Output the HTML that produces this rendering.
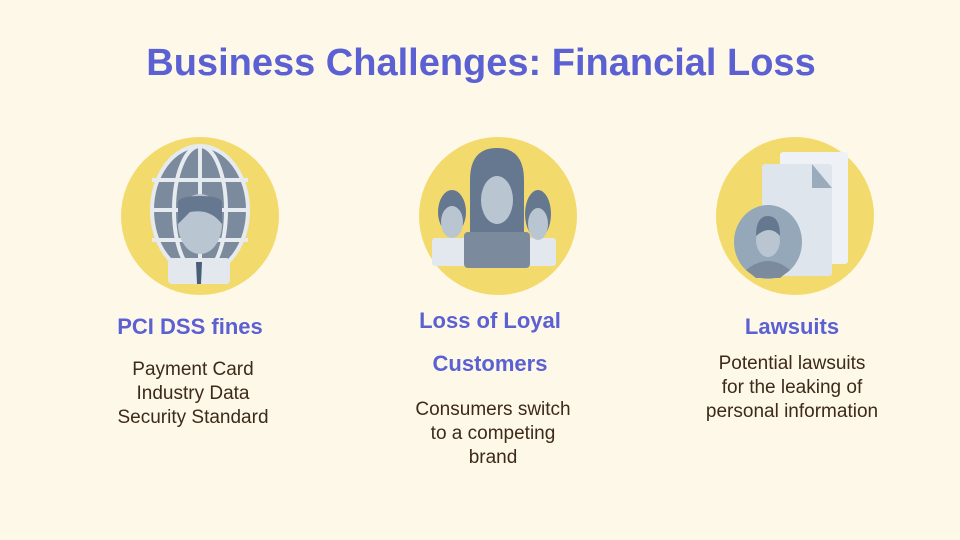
<!DOCTYPE html>
<html><head><meta charset="utf-8"><style>
body{margin:0;width:960px;height:540px;background:#fef8e8;position:relative;overflow:hidden;font-family:"Liberation Sans",sans-serif}
.t{position:absolute;left:0;width:962px;top:42px;text-align:center;font-size:38px;font-weight:bold;color:#5b60d2}
.h{position:absolute;text-align:center;color:#5b60d2;font-weight:bold;font-size:22px}
.d{position:absolute;text-align:center;color:#3d2a1a;font-size:19px;line-height:24px}
svg{position:absolute;left:0;top:0}
</style></head><body>
<div class="t">Business Challenges: Financial Loss</div>
<svg width="960" height="540">
<g>
<circle cx="200" cy="216" r="79" fill="#f3da6c"/>
<ellipse cx="200" cy="210" rx="48" ry="64" fill="#7b8a9c"/>
<g stroke="#e6ebf0" stroke-width="4" fill="none"><ellipse cx="200" cy="210" rx="48" ry="64"/><ellipse cx="200" cy="210" rx="26" ry="64"/><line x1="200" y1="146" x2="200" y2="274"/><line x1="152" y1="180" x2="248" y2="180"/><line x1="152" y1="210" x2="248" y2="210"/><line x1="152" y1="240" x2="248" y2="240"/></g>
<rect x="168" y="258" width="62" height="26" rx="4" fill="#e3e8ee"/>
<polygon points="196,262 202,262 201,284 197,284" fill="#4a5e78"/>
<ellipse cx="200" cy="224" rx="22" ry="30" fill="#b9c5d0"/>
<path d="M178 224 V202 Q180 196 200 196 Q220 196 222 202 V224 Q210 208 190 212Z" fill="#66788f"/>
</g>
<g>
<circle cx="498" cy="216" r="79" fill="#f3da6c"/>
<rect x="432" y="238" width="36" height="28" rx="3" fill="#e3e8ee"/>
<rect x="526" y="238" width="30" height="28" rx="3" fill="#e3e8ee"/>
<ellipse cx="452" cy="212" rx="14" ry="22" fill="#66788f"/><ellipse cx="452" cy="222" rx="11" ry="16" fill="#b9c5d0"/>
<ellipse cx="538" cy="214" rx="13" ry="24" fill="#66788f"/><ellipse cx="538" cy="224" rx="10" ry="16" fill="#b9c5d0"/>
<rect x="464" y="232" width="66" height="36" rx="4" fill="#7b8a9c"/>
<path d="M470 232 V180 Q470 148 497 148 Q524 148 524 180 V232Z" fill="#66788f"/>
<ellipse cx="497" cy="200" rx="16" ry="24" fill="#b9c5d0"/>
</g>
<g>
<circle cx="795" cy="216" r="79" fill="#f3da6c"/>
<rect x="780" y="152" width="68" height="112" rx="3" fill="#eef1f5"/>
<rect x="762" y="164" width="70" height="112" rx="3" fill="#dfe5ec"/>
<polygon points="812,164 832,188 812,188" fill="#9aabbc"/>
<ellipse cx="768" cy="242" rx="34" ry="37" fill="#95a8b9"/>
<ellipse cx="768" cy="240" rx="12" ry="17" fill="#b9c5d0"/>
<path d="M756 236 Q756 216 768 216 Q780 216 780 236 Q770 224 756 236Z" fill="#66788f"/>
<path d="M746 270 Q768 252 790 270 L780 278 H756Z" fill="#7b8a9c"/>
</g>
</svg>
<div class="h" style="left:90px;width:200px;top:314px">PCI DSS fines</div>
<div class="d" style="left:90px;width:206px;top:358px">Payment Card<br>Industry Data<br>Security Standard</div>
<div class="h" style="left:390px;width:200px;top:299px;line-height:43px">Loss of Loyal<br>Customers</div>
<div class="d" style="left:390px;width:206px;top:398px">Consumers switch<br>to a competing<br>brand</div>
<div class="h" style="left:692px;width:200px;top:314px">Lawsuits</div>
<div class="d" style="left:682px;width:220px;top:352px">Potential lawsuits<br>for the leaking of<br>personal information</div>
</body></html>
